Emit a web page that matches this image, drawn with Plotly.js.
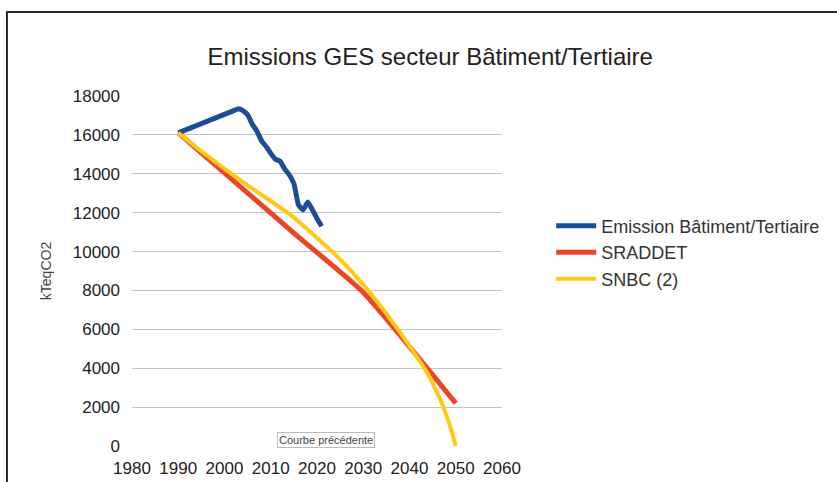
<!DOCTYPE html>
<html>
<head>
<meta charset="utf-8">
<script src="https://cdn.plot.ly/plotly-3.0.1.min.js"></script>
<style>
  html, body { margin: 0; padding: 0; background: #ffffff; }
  #wrap { position: relative; width: 837px; height: 482px; overflow: hidden; }
  #chart { width: 837px; height: 482px; }
  #frame { position: absolute; left: 6px; top: 11px; width: 840px; height: 480px;
           border-top: 2px solid #2a2a2a; border-left: 2px solid #2a2a2a; pointer-events: none; }
</style>
</head>
<body>
<div id="wrap">
  <div id="chart"></div>
  <div id="frame"></div>
</div>
<script>
// Emission Bâtiment/Tertiaire (observed)
const emissionYears = [1990, 2002, 2003, 2004, 2005, 2006, 2007, 2008, 2009, 2010, 2011, 2012, 2013, 2014, 2015, 2016, 2017, 2018, 2019, 2020, 2021];
const emissionValues = [16100, 17250, 17350, 17250, 17030, 16550, 16200, 15700, 15400, 15050, 14750, 14650, 14250, 13950, 13500, 12400, 12150, 12550, 12150, 11700, 11300];

// SRADDET trajectory
const sraddetYears = [1990, 2015, 2030, 2050];
const sraddetValues = [16100, 10950, 7900, 2200];

// SNBC (2) trajectory
const snbcYears = [1990, 1995, 2000, 2005, 2010, 2015, 2020, 2025, 2030, 2035, 2040, 2044, 2047, 2049, 2050];
const snbcValues = [16100, 15150, 14250, 13400, 12600, 11750, 10700, 9600, 8300, 6800, 5150, 3700, 2200, 850, 0];

const seriesNames = ["Emission Bâtiment/Tertiaire", "SRADDET", "SNBC (2)"];
const xTicks = [1980, 1990, 2000, 2010, 2020, 2030, 2040, 2050, 2060];
const yTicks = [0, 2000, 4000, 6000, 8000, 10000, 12000, 14000, 16000, 18000];

const font = "Liberation Sans, Arial, sans-serif";

const traces = [
  { x: emissionYears, y: emissionValues, name: seriesNames[0], type: "scatter", mode: "lines",
    line: { color: "#1b4e96", width: 5, shape: "spline", smoothing: 0.4 } },
  { x: sraddetYears, y: sraddetValues, name: seriesNames[1], type: "scatter", mode: "lines",
    line: { color: "#ee4325", width: 5, shape: "spline", smoothing: 0.5 } },
  { x: snbcYears, y: snbcValues, name: seriesNames[2], type: "scatter", mode: "lines",
    line: { color: "#ffc914", width: 4, shape: "spline", smoothing: 0.5 } }
];

const layout = {
  width: 837, height: 482,
  margin: { l: 132, r: 335, t: 96, b: 36, pad: 0 },
  paper_bgcolor: "#ffffff", plot_bgcolor: "#ffffff",
  font: { family: font, color: "#333333", size: 16 },
  title: { text: "Emissions GES secteur Bâtiment/Tertiaire", font: { family: font, size: 24, color: "#222222" },
           x: 0.514, xanchor: "center", xref: "container", y: 0.882, yanchor: "middle", yref: "container" },
  xaxis: { range: [1980, 2060], tickvals: xTicks, ticktext: xTicks.map(String), showgrid: false, zeroline: false,
           showline: false, ticks: "", tickfont: { size: 17, color: "#222222" }, ticklabelstandoff: 10, fixedrange: true },
  yaxis: { range: [0, 18000], tickvals: yTicks, ticktext: yTicks.map(String), showgrid: true, gridcolor: "#c4c4c4", gridwidth: 1,
           zeroline: false, showline: false, ticks: "", tickfont: { size: 17, color: "#222222" }, ticklabelstandoff: 11,
           title: { text: "kTeqCO2", font: { size: 14, color: "#444444" }, standoff: 17 }, fixedrange: true },
  showlegend: true,
  legend: { x: 1.133, xanchor: "left", y: 0.681, yanchor: "top", font: { size: 18, color: "#333333" },
            bgcolor: "rgba(0,0,0,0)", tracegroupgap: 0, itemwidth: 40 },
  annotations: [
    { xref: "paper", yref: "paper", x: 0.524, y: -0.006, text: "Courbe précédente", showarrow: false,
      font: { size: 11, color: "#444444" }, bgcolor: "#ffffff", bordercolor: "#bbbbbb", borderwidth: 1, borderpad: 1 }
  ]
};

Plotly.newPlot("chart", traces, layout, { staticPlot: true, displayModeBar: false });
</script>
</body>
</html>
